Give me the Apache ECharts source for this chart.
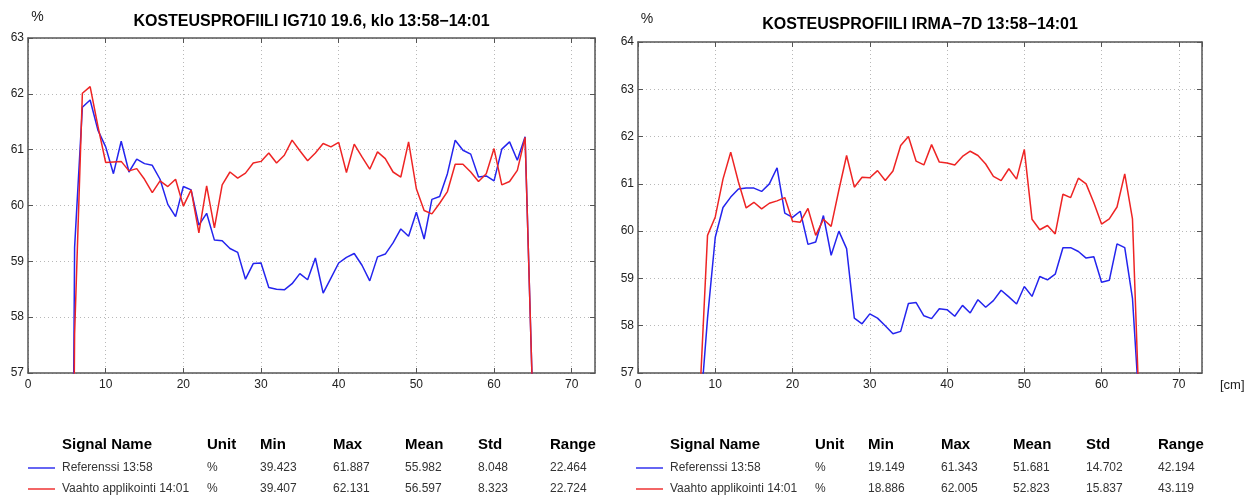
<!DOCTYPE html>
<html>
<head>
<meta charset="utf-8">
<script src="https://cdn.jsdelivr.net/npm/echarts@6/dist/echarts.min.js"></script>
<style>
  html, body { margin: 0; padding: 0; background: #fff; }
  #chart { width: 1246px; height: 497px; }
</style>
</head>
<body>
<div id="chart"></div>
<script>
// ---- data ----
const titleLeft = 'KOSTEUSPROFIILI IG710 19.6, klo 13:58\u221214:01'
const titleRight = 'KOSTEUSPROFIILI IRMA\u22127D 13:58\u221214:01'

const seriesNames = ['Referenssi 13:58', 'Vaahto applikointi 14:01']

// left chart, position in cm
const posLeft = [5, 6, 7, 8, 9, 10, 11, 12, 13, 14, 15, 16, 17, 18, 19, 20, 21, 22, 23, 24, 25,
  26, 27, 28, 29, 30, 31, 32, 33, 34, 35, 36, 37, 38, 39, 40, 41, 42, 43, 44, 45, 46,
  47, 48, 49, 50, 51, 52, 53, 54, 55, 56, 57, 58, 59, 60, 61, 62, 63, 64, 65, 66]
const refLeft = [39.42, 59.25, 61.76, 61.89, 61.35, 61.05, 60.57, 61.15, 60.6, 60.83, 60.75,
  60.72, 60.47, 60.02, 59.8, 60.34, 60.28, 59.65, 59.86, 59.38, 59.37, 59.23, 59.16, 58.68,
  58.96, 58.97, 58.53, 58.5, 58.49, 58.6, 58.78, 58.67, 59.06, 58.43, 58.7, 58.97, 59.07,
  59.14, 58.93, 58.65, 59.08, 59.13, 59.33, 59.58, 59.45, 59.88, 59.4, 60.11, 60.16, 60.57,
  61.17, 60.99, 60.92, 60.51, 60.53, 60.44, 61.01, 61.14, 60.81, 61.23, 56.4, 39.42]
const foamLeft = [39.41, 57.7, 62.01, 62.13, 61.42, 60.77, 60.78, 60.79, 60.62, 60.66, 60.47,
  60.23, 60.44, 60.34, 60.47, 59.99, 60.28, 59.51, 60.35, 59.6, 60.37, 60.6, 60.49, 60.58,
  60.76, 60.79, 60.94, 60.76, 60.9, 61.17, 60.98, 60.8, 60.94, 61.11, 61.05, 61.13, 60.59,
  61.1, 60.87, 60.65, 60.96, 60.84, 60.6, 60.51, 61.14, 60.3, 59.91, 59.85, 60.04, 60.25,
  60.74, 60.74, 60.6, 60.43, 60.57, 61.02, 60.37, 60.43, 60.63, 61.22, 56.4, 39.41]

// right chart
const posRight = [7, 8, 9, 10, 11, 12, 13, 14, 15, 16, 17, 18, 19, 20, 21, 22, 23, 24, 25,
  26, 27, 28, 29, 30, 31, 32, 33, 34, 35, 36, 37, 38, 39, 40, 41, 42, 43, 44, 45, 46,
  47, 48, 49, 50, 51, 52, 53, 54, 55, 56, 57, 58, 59, 60, 61, 62, 63, 64, 65, 66]
const refRight = [19.15, 56.05, 58.16, 59.87, 60.5, 60.72, 60.89, 60.91, 60.91, 60.84, 61.0,
  61.34, 60.38, 60.29, 60.42, 59.72, 59.77, 60.33, 59.49, 60.0, 59.63, 58.16, 58.04, 58.25,
  58.16, 58.0, 57.83, 57.88, 58.47, 58.49, 58.21, 58.15, 58.36, 58.34, 58.2, 58.43, 58.27,
  58.55, 58.39, 58.53, 58.75, 58.61, 58.46, 58.83, 58.62, 59.04, 58.97, 59.09, 59.65, 59.65,
  59.57, 59.43, 59.46, 58.92, 58.96, 59.73, 59.65, 58.58, 55.95, 19.15]
const foamRight = [18.89, 56.5, 59.91, 60.3, 61.1, 61.67, 61.04, 60.49, 60.61, 60.47, 60.59,
  60.64, 60.71, 60.21, 60.19, 60.48, 59.91, 60.25, 60.1, 60.87, 61.6, 60.93, 61.14, 61.13,
  61.28, 61.07, 61.27, 61.81, 62.0, 61.48, 61.4, 61.83, 61.46, 61.44, 61.4, 61.58, 61.69,
  61.6, 61.42, 61.16, 61.07, 61.32, 61.1, 61.73, 60.25, 60.03, 60.12, 59.94, 60.78, 60.71,
  61.12, 61.0, 60.6, 60.15, 60.26, 60.51, 61.21, 60.26, 55.6, 18.89]

// statistics tables
const tableHeaders = ['Signal Name', 'Unit', 'Min', 'Max', 'Mean', 'Std', 'Range']
const statsLeft = [
  ['%', '39.423', '61.887', '55.982', '8.048', '22.464'],
  ['%', '39.407', '62.131', '56.597', '8.323', '22.724'],
]
const statsRight = [
  ['%', '19.149', '61.343', '51.681', '14.702', '42.194'],
  ['%', '18.886', '62.005', '52.823', '15.837', '43.119'],
]

// ---- styling ----
const BLUE = '#2424ee'
const RED = '#ee2424'
const FONT = '"Liberation Sans", Arial, sans-serif'
const AXIS = '#555'

const pairs = (xs, ys) => xs.map((x, i) => [x, ys[i]])

function xAxes(gridIndex) {
  const base = {
    type: 'value', gridIndex: gridIndex, min: 0, max: 73, interval: 10,
    axisLine: { show: true, onZero: false, lineStyle: { color: AXIS, width: 1.5 } },
    axisTick: { show: true, inside: true, length: 5, lineStyle: { color: AXIS } },
  }
  return [
    Object.assign({}, base, {
      position: 'bottom',
      axisLabel: { show: true, showMaxLabel: false, color: '#222', fontSize: 12, fontFamily: FONT, margin: 6 },
      splitLine: { show: true, lineStyle: { color: '#b8b8b8', type: [1, 3] } },
    }),
    Object.assign({}, base, {
      position: 'top',
      axisLabel: { show: false },
      splitLine: { show: false },
    }),
  ]
}

function yAxes(gridIndex, max) {
  const base = {
    type: 'value', gridIndex: gridIndex, min: 57, max: max, interval: 1,
    axisLine: { show: true, onZero: false, lineStyle: { color: AXIS, width: 1.5 } },
    axisTick: { show: true, inside: true, length: 5, lineStyle: { color: AXIS } },
  }
  return [
    Object.assign({}, base, {
      position: 'left',
      axisLabel: { show: true, color: '#222', fontSize: 12, fontFamily: FONT, margin: 4 },
      splitLine: { show: true, lineStyle: { color: '#b8b8b8', type: [1, 3] } },
    }),
    Object.assign({}, base, {
      position: 'right',
      axisLabel: { show: false },
      splitLine: { show: false },
    }),
  ]
}

function lineSeries(name, xi, yi, data, color) {
  return {
    name: name, type: 'line', xAxisIndex: xi, yAxisIndex: yi,
    data: data, showSymbol: false, clip: true, animation: false,
    lineStyle: { color: color, width: 1.5 },
  }
}

function txt(x, y, text, opts) {
  return {
    type: 'text', x: x, y: y, silent: true,
    style: Object.assign({
      text: text, fill: '#111', fontFamily: FONT, fontSize: 12,
      align: 'left', verticalAlign: 'middle', textAlign: 'left', textVerticalAlign: 'middle',
    }, opts || {}),
  }
}

function table(offset, stats) {
  const cols = [62, 207, 260, 333, 405, 478, 550]
  const els = []
  tableHeaders.forEach((h, i) => {
    els.push(txt(cols[i] + offset, 445, h, { fontSize: 15, fontWeight: 'bold', fill: '#000' }))
  })
  const rowsY = [468, 489]
  const colors = [BLUE, RED]
  stats.forEach((row, r) => {
    els.push({
      type: 'line', silent: true,
      shape: { x1: 28 + offset, y1: rowsY[r], x2: 55 + offset, y2: rowsY[r] },
      style: { stroke: colors[r], lineWidth: 1.4 },
    })
    els.push(txt(cols[0] + offset, rowsY[r], seriesNames[r], { fill: '#333' }))
    row.forEach((v, c) => {
      els.push(txt(cols[c + 1] + offset, rowsY[r], v, { fill: '#333' }))
    })
  })
  return els
}

const chart = echarts.init(document.getElementById('chart'), null, { renderer: 'canvas' })

const option = {
  animation: false,
  backgroundColor: '#fff',
  grid: [
    { left: 28, top: 38, width: 567, height: 335, outerBoundsMode: 'none', containLabel: false },
    { left: 638, top: 42, width: 564, height: 331, outerBoundsMode: 'none', containLabel: false },
  ],
  xAxis: xAxes(0).concat(xAxes(1)),
  yAxis: yAxes(0, 63).concat(yAxes(1, 64)),
  series: [
    lineSeries(seriesNames[0], 0, 0, pairs(posLeft, refLeft), BLUE),
    lineSeries(seriesNames[1], 0, 0, pairs(posLeft, foamLeft), RED),
    lineSeries(seriesNames[0], 2, 2, pairs(posRight, refRight), BLUE),
    lineSeries(seriesNames[1], 2, 2, pairs(posRight, foamRight), RED),
  ],
  graphic: [
    txt(311.5, 21.5, titleLeft, { fontSize: 16, fontWeight: 'bold', fill: '#000', align: 'center', textAlign: 'center' }),
    txt(920, 24.5, titleRight, { fontSize: 16, fontWeight: 'bold', fill: '#000', align: 'center', textAlign: 'center' }),
    txt(37.5, 17, '%', { fontSize: 14, fill: '#222', align: 'center', textAlign: 'center' }),
    txt(647, 19.5, '%', { fontSize: 14, fill: '#222', align: 'center', textAlign: 'center' }),
    txt(1220, 385, '[cm]', { fontSize: 13, fill: '#222' }),
  ].concat(table(0, statsLeft)).concat(table(608, statsRight)),
}

chart.setOption(option)
</script>
</body>
</html>
